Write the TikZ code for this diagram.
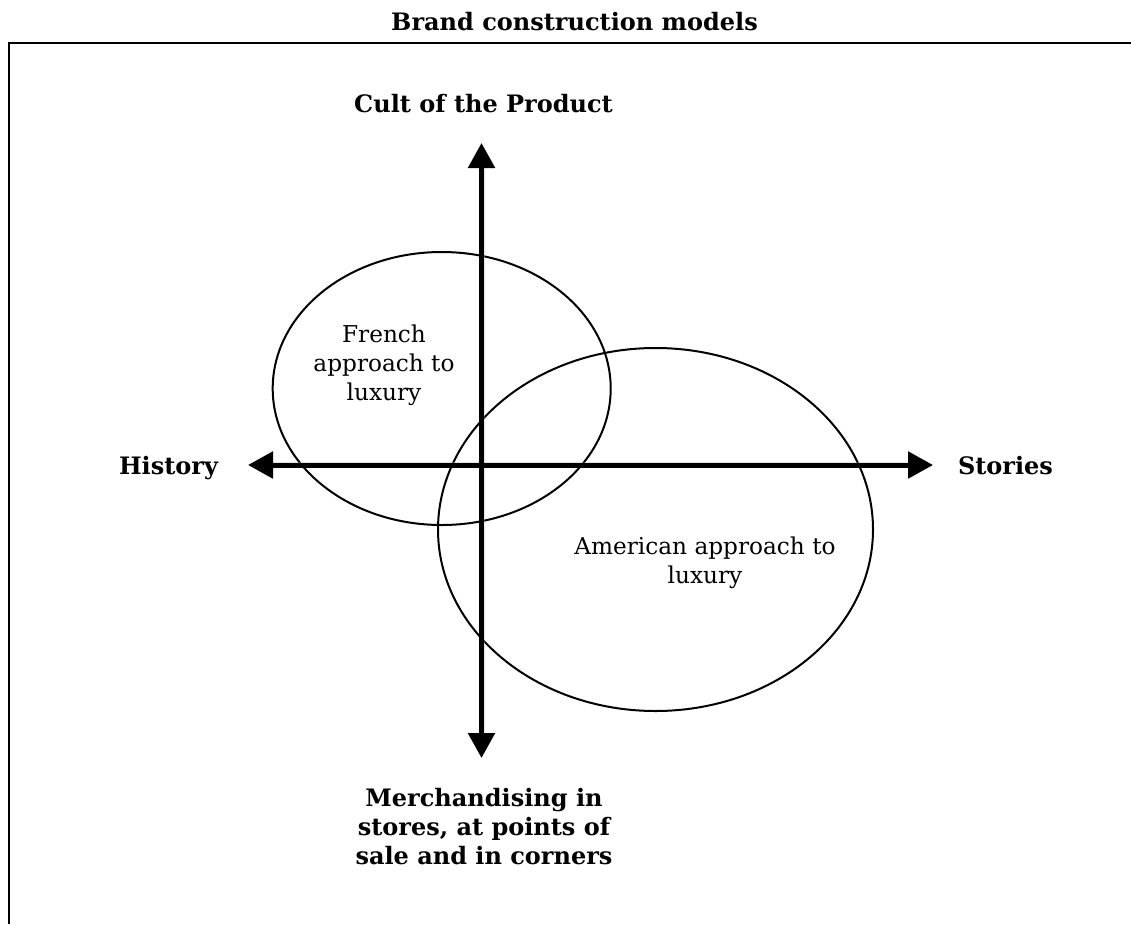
\documentclass[tikz,border=0pt]{standalone}
\usepackage{fontspec}
\setmainfont{DejaVu Serif}
\usetikzlibrary{arrows.meta}
\begin{document}
\begin{tikzpicture}[x=1pt,y=-1pt,
  heading/.style={font=\fontsize{24}{28.7}\selectfont\bfseries, inner sep=0pt, align=center},
  label/.style={font=\fontsize{23.2}{28.7}\selectfont, inner sep=0pt, align=center},
  axis/.style={line width=5pt, {Triangle[length=25pt,width=26pt]}-{Triangle[length=25pt,width=26pt]}},
  axisshadow/.style={line width=6pt, black!30, opacity=0.35,
    {Triangle[length=25pt,width=27pt]}-{Triangle[length=25pt,width=27pt]}},
  ring/.style={line width=2pt},
  frame/.style={line width=2.3pt}]
  \useasboundingbox (0,0) rectangle (1131,924);

  % title and open frame (top and left rules only)
  \node[heading, anchor=base] (title) at (574.5,30.5) {Brand construction models};
  \coordinate (fbl) at (8.7,924);
  \coordinate (ftl) at (8.7,42.7);
  \coordinate (ftr) at (1131,42.7);
  \draw[frame] (fbl) -- (ftl) -- (ftr);

  % ellipses
  \coordinate (fr) at (441.7,388.5);
  \coordinate (am) at (655.5,529.5);
  \draw[ring] (fr) ellipse [x radius=169, y radius=136.5];
  \draw[ring] (am) ellipse [x radius=217.5, y radius=181.5];

  % axis end points
  \coordinate (top) at (481.5,143);
  \coordinate (bottom) at (481.5,758);
  \coordinate (left) at (248,465);
  \coordinate (right) at (933,465);

  % soft shadow under the axes
  \begin{scope}[shift={(1.5,2)}]
    \draw[axisshadow] (top) -- (bottom);
    \draw[axisshadow] (left) -- (right);
  \end{scope}
  \draw[axis] (top) -- (bottom);
  \draw[axis] (left) -- (right);

  % axis labels (multi-line nodes sit on the baseline of their last line)
  \node[heading, anchor=base] (cult) at (483.5,112) {Cult of the Product};
  \node[heading, anchor=base] (hist) at (168.5,474) {History};
  \node[heading, anchor=base] (stor) at (1005.5,474) {Stories};
  \node[heading, anchor=base] (merch) at (484,864)
    {Merchandising in\\stores, at points of\\sale and in corners};

  % ellipse labels
  \node[label, anchor=base] (frt) at (384,400) {French\\approach to\\luxury};
  \node[label, anchor=base] (amt) at (705,583) {American approach to\\luxury};
\end{tikzpicture}
\end{document}
